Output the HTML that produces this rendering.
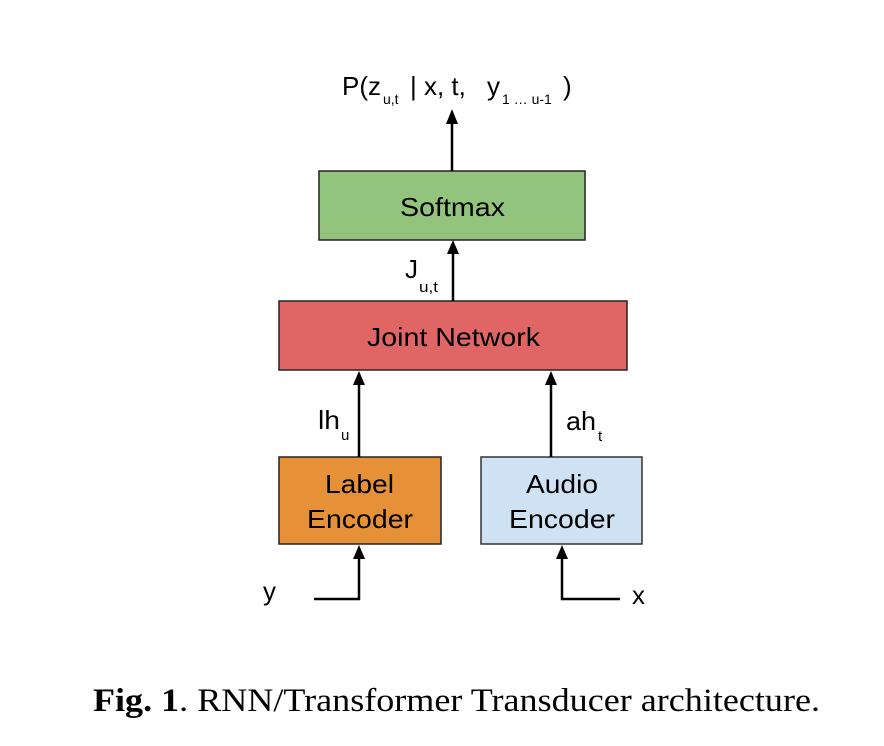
<!DOCTYPE html>
<html><head><meta charset="utf-8"><style>
html,body{margin:0;padding:0;background:#fff;}
svg{display:block;}
</style></head><body>
<svg width="884" height="746" viewBox="0 0 884 746" xmlns="http://www.w3.org/2000/svg">
<g font-family="Liberation Sans, sans-serif" fill="#000">
<rect x="319" y="171" width="266" height="69" fill="#93c47d" stroke="#222" stroke-width="1.5"/>
<rect x="279" y="301" width="348" height="69" fill="#e06666" stroke="#222" stroke-width="1.5"/>
<rect x="279" y="457" width="162" height="87" fill="#e69138" stroke="#222" stroke-width="1.5"/>
<rect x="481" y="457" width="161" height="87" fill="#cfe2f3" stroke="#333" stroke-width="1.5"/>
<g stroke="#000" stroke-width="2.5" fill="none">
<line x1="452" y1="171" x2="452" y2="122"/>
<line x1="453" y1="301" x2="453" y2="252"/>
<line x1="359" y1="457" x2="359" y2="383"/>
<line x1="551" y1="457" x2="551" y2="383"/>
<polyline points="314,599 359,599 359,557"/>
<polyline points="620,599 562,599 562,557"/>
</g>
<polygon points="452,109 446,124 458,124"/>
<polygon points="453,240 447,254 459,254"/>
<polygon points="359,371 353,385 365,385"/>
<polygon points="551,371 545,385 557,385"/>
<polygon points="359,545 353,559 365,559"/>
<polygon points="562,545 556,559 568,559"/>
<text x="400" y="216" font-size="26" textLength="105" lengthAdjust="spacingAndGlyphs">Softmax</text>
<text x="367" y="346" font-size="26" textLength="173" lengthAdjust="spacingAndGlyphs">Joint Network</text>
<text x="325" y="493" font-size="26" textLength="69" lengthAdjust="spacingAndGlyphs">Label</text>
<text x="307" y="528" font-size="26" textLength="106" lengthAdjust="spacingAndGlyphs">Encoder</text>
<text x="526" y="493" font-size="26" textLength="72" lengthAdjust="spacingAndGlyphs">Audio</text>
<text x="509" y="528" font-size="26" textLength="106" lengthAdjust="spacingAndGlyphs">Encoder</text>
<text x="342" y="95" font-size="26">P(z</text>
<text x="383" y="104" font-size="14">u,t</text>
<text x="410" y="95" font-size="26">| x, t,</text>
<text x="487" y="95" font-size="26">y</text>
<text x="502" y="104" font-size="14">1 … u-1</text>
<text x="563" y="95" font-size="26">)</text>
<text x="405" y="278" font-size="26">J</text>
<text x="419" y="292" font-size="15" textLength="19" lengthAdjust="spacingAndGlyphs">u,t</text>
<text x="318" y="429" font-size="26" textLength="22" lengthAdjust="spacingAndGlyphs">lh</text>
<text x="341" y="440" font-size="15">u</text>
<text x="566" y="430" font-size="26" textLength="30" lengthAdjust="spacingAndGlyphs">ah</text>
<text x="598" y="441" font-size="15">t</text>
<text x="263" y="600" font-size="26">y</text>
<text x="632" y="604" font-size="26">x</text>
</g>
<text x="93" y="711" font-family="Liberation Serif, serif" font-size="33" textLength="727" lengthAdjust="spacingAndGlyphs"><tspan font-weight="bold">Fig. 1</tspan>. RNN/Transformer Transducer architecture.</text>
</svg>
</body></html>
